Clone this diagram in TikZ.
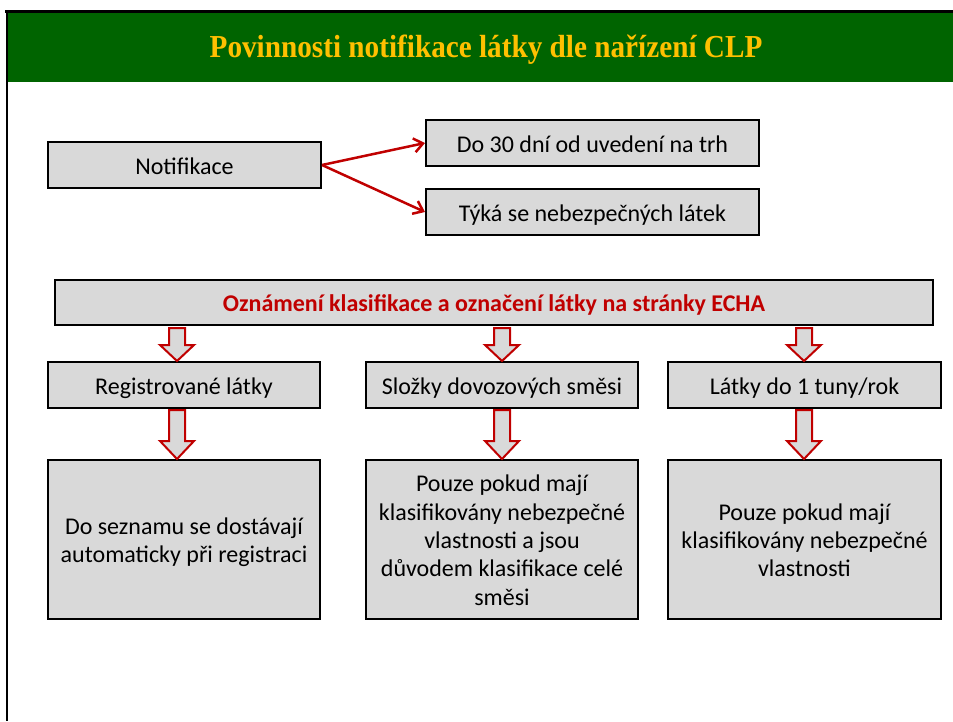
\documentclass[tikz,border=0pt]{standalone}
\usepackage{fontspec}
\setmainfont{Carlito}
\newfontfamily\titlefont{Liberation Serif}
\usetikzlibrary{arrows.meta,calc}
\definecolor{bandgreen}{HTML}{006400}
\definecolor{titlegold}{HTML}{FFC000}
\definecolor{darkred}{HTML}{C00000}
\definecolor{boxgray}{HTML}{D9D9D9}
\tikzset{
  box/.style={draw=black,line width=2pt,fill=boxgray,inner sep=0pt,align=center,
    text height=22pt,text depth=4pt,
    font=\fontsize{24}{28.3}\selectfont,text=black},
  redarrow/.style={draw=darkred,line width=2.5pt,-{Straight Barb[length=9pt,width=14pt,line width=2.5pt]}},
  blockarrow/.style={draw=darkred,line width=2pt,fill=boxgray,line join=miter},
}
\begin{document}
\begin{tikzpicture}[x=1pt,y=-1pt]
\useasboundingbox (0,0) rectangle (953,721);
\fill[white] (0,0) rectangle (953,721);
% frame and title band
\fill[bandgreen] (8,12) rectangle (953,82);
\draw[black,line width=3pt] (5,11) -- (953,11);
\draw[black,line width=2pt] (7,10) -- (7,721);
\node[text=titlegold,font=\titlefont\bfseries\fontsize{32}{34}\selectfont,inner sep=0pt] (title) at (486,50)
  {\scalebox{0.913}[1]{Povinnosti notifikace látky dle nařízení CLP}};
% top boxes
\node[box,minimum width=273pt,minimum height=46pt] (notif) at (184.5,165) {Notifikace};
\node[box,minimum width=333pt,minimum height=46pt] (do30) at (592.5,143) {Do 30 dní od uvedení na trh};
\node[box,minimum width=333pt,minimum height=46pt] (tyka) at (592.5,212) {Týká se nebezpečných látek};
\draw[redarrow] (notif.east) -- (do30.west);
\draw[redarrow] (notif.east) -- (tyka.west);
% ECHA
\node[box,minimum width=878pt,minimum height=45pt,text=darkred,font=\bfseries\fontsize{24}{28}\selectfont] (echa) at (494,302.5)
  {Oznámení klasifikace a označení látky na stránky ECHA};
% second row
\node[box,minimum width=272pt,minimum height=46pt] (reg) at (184,385) {Registrované látky};
\node[box,minimum width=272pt,minimum height=46pt] (slo) at (502,385) {Složky dovozových směsi};
\node[box,minimum width=273pt,minimum height=46pt] (lat) at (804.5,385) {Látky do 1 tuny/rok};
% third row
\node[box,text height=50.3pt,minimum width=272pt,minimum height=159pt] (reg2) at (184,539.5) {Do seznamu se dostávají\\automaticky při registraci};
\node[box,text height=135.2pt,minimum width=272pt,minimum height=159pt] (slo2) at (502,539.5) {Pouze pokud mají\\klasifikovány nebezpečné\\vlastnosti a jsou\\důvodem klasifikace celé\\směsi};
\node[box,text height=78.6pt,minimum width=273pt,minimum height=159pt] (lat2) at (804.5,539.5) {Pouze pokud mají\\klasifikovány nebezpečné\\vlastnosti};
% block arrows
\foreach \cx/\a/\b in {177/echa/reg, 502/echa/slo, 804/echa/lat}{
  \draw[blockarrow] let \p1=(\a.south), \p2=(\b.north) in
    (\cx-8,\y1-2) -- (\cx+8,\y1-2) -- (\cx+8,\y2+16) -- (\cx+17,\y2+16) -- (\cx,\y2) -- (\cx-17,\y2+16) -- (\cx-8,\y2+16) -- cycle;
}
\foreach \cx/\a/\b in {177/reg/reg2, 502/slo/slo2, 804/lat/lat2}{
  \draw[blockarrow] let \p1=(\a.south), \p2=(\b.north) in
    (\cx-8,\y1-1) -- (\cx+8,\y1-1) -- (\cx+8,\y2+18) -- (\cx+17,\y2+18) -- (\cx,\y2) -- (\cx-17,\y2+18) -- (\cx-8,\y2+18) -- cycle;
}
\end{tikzpicture}
\end{document}
